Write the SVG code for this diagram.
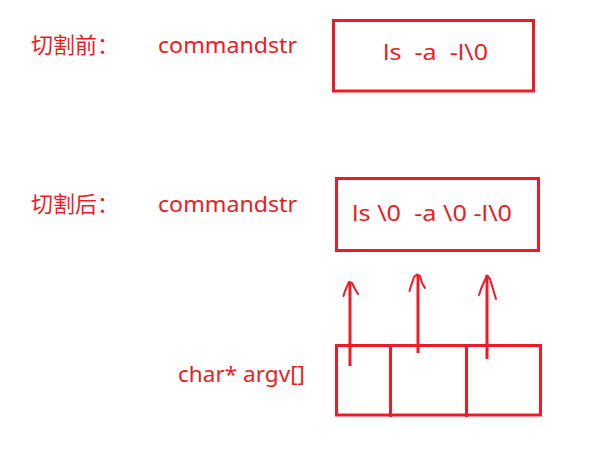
<svg xmlns="http://www.w3.org/2000/svg" width="598" height="456" viewBox="0 0 598 456">
<style>
text{font-family:"Noto Sans","Noto Sans CJK SC",sans-serif;font-size:22px;fill:#ED1C24}
.box{fill:none;stroke:#ED1C24;stroke-width:3}
.shaft{stroke:#ED1C24;stroke-width:3;fill:none}
.head{stroke:#ED1C24;stroke-width:2;fill:none;stroke-linejoin:round;stroke-linecap:round}
</style>
<rect width="598" height="456" fill="#fff"/>
<g id="label-before"><text x="31" y="53">切割前：</text></g>
<g id="label-commandstr-1"><text x="158" y="53" textLength="139" lengthAdjust="spacingAndGlyphs">commandstr</text></g>
<g id="box-before"><rect class="box" x="333.5" y="20.5" width="200" height="70.5"/><text x="383" y="60" xml:space="preserve" textLength="105" lengthAdjust="spacingAndGlyphs">ls  -a  -l\0</text></g>
<g id="label-after"><text x="31" y="212">切割后：</text></g>
<g id="label-commandstr-2"><text x="158" y="212" textLength="139" lengthAdjust="spacingAndGlyphs">commandstr</text></g>
<g id="box-after"><rect class="box" x="336.5" y="178.5" width="202" height="72"/><text x="352" y="221" xml:space="preserve" textLength="160" lengthAdjust="spacingAndGlyphs">ls \0  -a \0 -l\0</text></g>
<g id="label-argv"><text x="178" y="382" textLength="127" lengthAdjust="spacingAndGlyphs">char* argv[]</text></g>
<g id="argv-array"><rect class="box" x="336.5" y="345.5" width="204" height="69.5"/><line class="box" x1="390.5" y1="345.5" x2="390.5" y2="417"/><line class="box" x1="466.5" y1="345.5" x2="466.5" y2="417"/></g>
<g id="connectors">
<line class="shaft" x1="350" y1="366" x2="350" y2="283"/><path class="head" d="M343.5 296 L345 291 L349 282 L352 283 L355 289 L358 294"/>
<line class="shaft" x1="418" y1="353" x2="418" y2="275"/><path class="head" d="M409.5 291 L411 286 L414 277 L417 274.5 L420 276 L422 283 L425 288"/>
<line class="shaft" x1="487" y1="359" x2="487" y2="275"/><path class="head" d="M479 295 L481 289 L484 282 L487 275.5 L490 279 L493 289 L496 299"/>
</g>
</svg>
